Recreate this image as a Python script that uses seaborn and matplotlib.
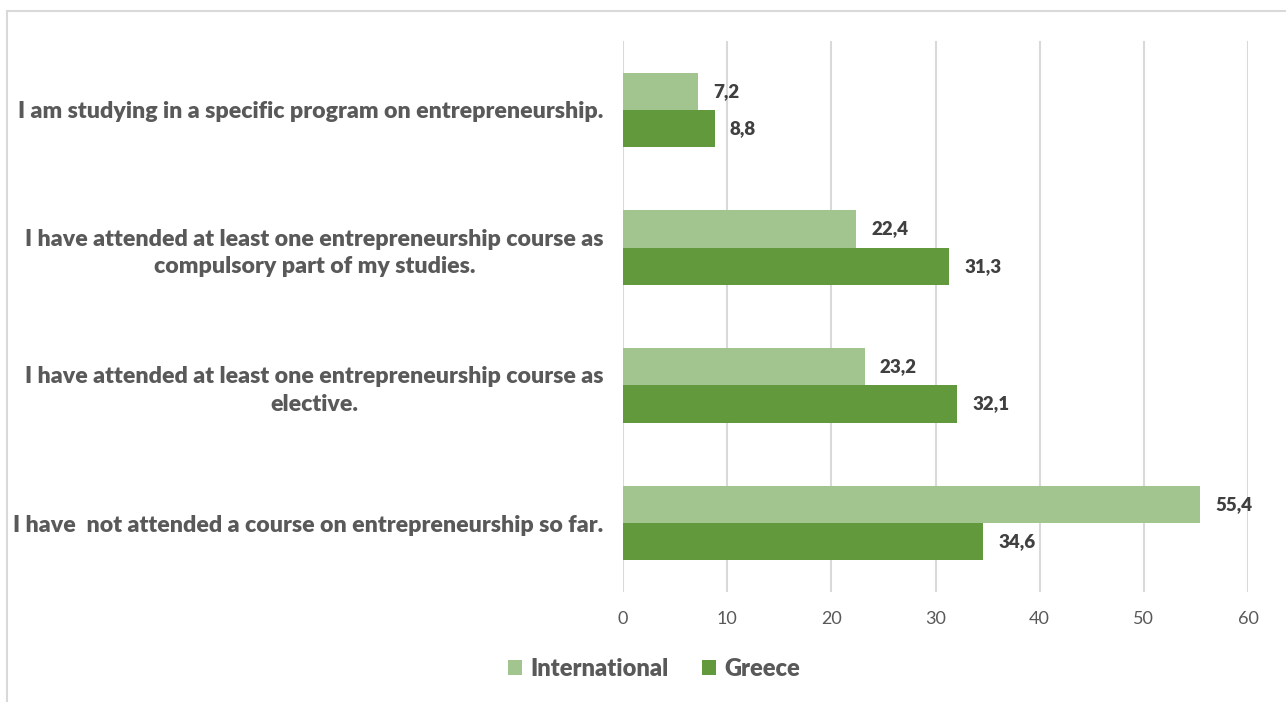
import matplotlib
matplotlib.use("Agg")
import matplotlib.pyplot as plt
import seaborn as sns
import pandas as pd
from matplotlib.patches import Patch, Rectangle

categories = [
    "I am studying in a specific program on entrepreneurship.",
    "I have attended at least one entrepreneurship course as\ncompulsory part of my studies.",
    "I have attended at least one entrepreneurship course as\nelective.",
    "I have  not attended a course on entrepreneurship so far.",
]
series = ["International", "Greece"]
international = [7.2, 22.4, 23.2, 55.4]
greece = [8.8, 31.3, 32.1, 34.6]
x_ticks = [0, 10, 20, 30, 40, 50, 60]

colors = {"International": "#A2C590", "Greece": "#62993D"}
text_gray = "#595959"
label_dark = "#404040"
grid_gray = "#D9D9D9"

df = pd.DataFrame({
    "category": categories * 2,
    "series": [series[0]] * len(categories) + [series[1]] * len(categories),
    "value": international + greece,
})

sns.set_theme(style="white")
plt.rcParams["font.family"] = ["Lato", "DejaVu Sans"]

fig = plt.figure(figsize=(12.86, 7.02), dpi=100)
ax = fig.add_axes([623 / 1286, 1 - 592 / 702, (1248 - 623) / 1286, (592 - 41) / 702])

sns.barplot(
    data=df, y="category", x="value", hue="series", orient="h",
    order=categories, hue_order=series, palette=colors,
    width=0.54, saturation=1, linewidth=0, legend=False, ax=ax,
)

for container, vals in zip(ax.containers, [international, greece]):
    texts = ax.bar_label(
        container,
        labels=[f"{v:.1f}".replace(".", ",") for v in vals],
        padding=11, fontsize=13.5, fontweight="heavy", color=label_dark,
    )
    for t in texts:
        t.set_va("center")
        t.set_y(t.get_position()[1])

ax.set_xlim(0, 60)
ax.set_ylim(3.5, -0.5)
ax.set_xticks(x_ticks)
ax.set_xticklabels([str(t) for t in x_ticks])
ax.set_xlabel("")
ax.set_ylabel("")
ax.grid(axis="x", color=grid_gray, linewidth=1.5)
ax.grid(axis="y", visible=False)
ax.set_axisbelow(True)
for s in ax.spines.values():
    s.set_visible(False)

ax.tick_params(axis="x", length=0, pad=14, labelsize=13, labelcolor=text_gray)
ax.tick_params(axis="y", length=0, pad=14, labelsize=16.7, labelcolor=text_gray)
for lbl in ax.get_yticklabels():
    lbl.set_fontweight("heavy")
    lbl.set_multialignment("center")
    lbl.set_linespacing(1.4)

handles = [Patch(facecolor=colors[s], edgecolor="none", label=s) for s in series]
leg = fig.legend(
    handles=handles, loc="center", bbox_to_anchor=(654 / 1286, 1 - 669 / 702),
    ncol=2, frameon=False, handlelength=0.6, handleheight=0.6,
    handletextpad=0.35, columnspacing=1.4,
    prop={"family": ["Lato", "DejaVu Sans"], "weight": "heavy", "size": 17},
)
for t in leg.get_texts():
    t.set_color(text_gray)

# chart frame (open on the right and bottom edges)
fig.add_artist(Rectangle((7 / 1286, -0.1), 1.2, 1 - 11 / 702 + 0.1,
                         transform=fig.transFigure, fill=False,
                         edgecolor=grid_gray, linewidth=1.5))

fig.savefig("out.png", dpi=100, facecolor="white")
